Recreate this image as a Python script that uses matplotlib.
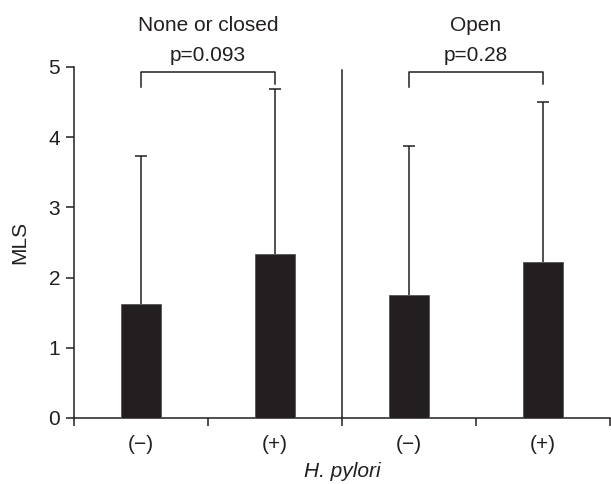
import matplotlib.pyplot as plt

plt.rcParams["font.family"] = ["Liberation Sans", "DejaVu Sans"]

tick_labels = ["(\u2212)", "(+)", "(\u2212)", "(+)"]
mls_mean = [1.62, 2.34, 1.75, 2.22]
mls_upper = [3.73, 4.69, 3.88, 4.50]
group_names = ["None or closed", "Open"]
p_values = ["p=0.093", "p=0.28"]

ink = "#231f20"
fs = 15
x = [0.5, 1.5, 2.5, 3.5]
err = [u - m for u, m in zip(mls_upper, mls_mean)]

fig = plt.figure(figsize=(6.11, 4.84), dpi=100)
ax = fig.add_axes([0.121, 0.1364, 0.877, 0.7252])

ax.bar(x, mls_mean, width=0.3, color=ink, edgecolor="#555555", linewidth=0.6, zorder=3)
eb = ax.errorbar(x, mls_mean, yerr=[[0] * 4, err], fmt="none", ecolor=ink,
                 elinewidth=1.1, capsize=4, capthick=1.1, zorder=2)
eb[1][0].set_visible(False)

# separator between the two groups
ax.plot([2, 2], [0, 4.96], color=ink, lw=1.1, clip_on=False)

# brackets with p values
for i, (name, p) in enumerate(zip(group_names, p_values)):
    x0, x1 = x[2 * i], x[2 * i + 1]
    ax.plot([x0, x0, x1, x1], [4.71, 4.93, 4.93, 4.76], color=ink, lw=1.1,
            clip_on=False)
    ax.text((x0 + x1) / 2, 5.03, p, ha="center", va="bottom", fontsize=fs,
            color=ink)
    ax.text((x0 + x1) / 2, 5.45, name, ha="center", va="bottom", fontsize=fs,
            color=ink)

ax.set_xlim(0, 4)
ax.set_ylim(0, 5)
ax.set_yticks([0, 1, 2, 3, 4, 5])
ax.set_xticks([0, 1, 2, 3, 4])
ax.set_xticklabels([])
ax.set_xticks(x, minor=True)
ax.set_xticklabels(tick_labels, minor=True)
ax.tick_params(axis="x", which="minor", length=0, pad=12, labelsize=fs,
               colors=ink)
ax.tick_params(axis="x", which="major", length=6, width=1.1, colors=ink)
ax.tick_params(axis="y", length=6, width=1.1, labelsize=fs, colors=ink, pad=4)

for side in ["top", "right"]:
    ax.spines[side].set_visible(False)
for side in ["left", "bottom"]:
    ax.spines[side].set_color(ink)
    ax.spines[side].set_linewidth(1.1)

ax.set_ylabel("MLS", fontsize=fs, color=ink, labelpad=14)
ax.set_xlabel("H. pylori", fontsize=fs, style="italic", color=ink, labelpad=6)

fig.savefig("out.png", dpi=100)
